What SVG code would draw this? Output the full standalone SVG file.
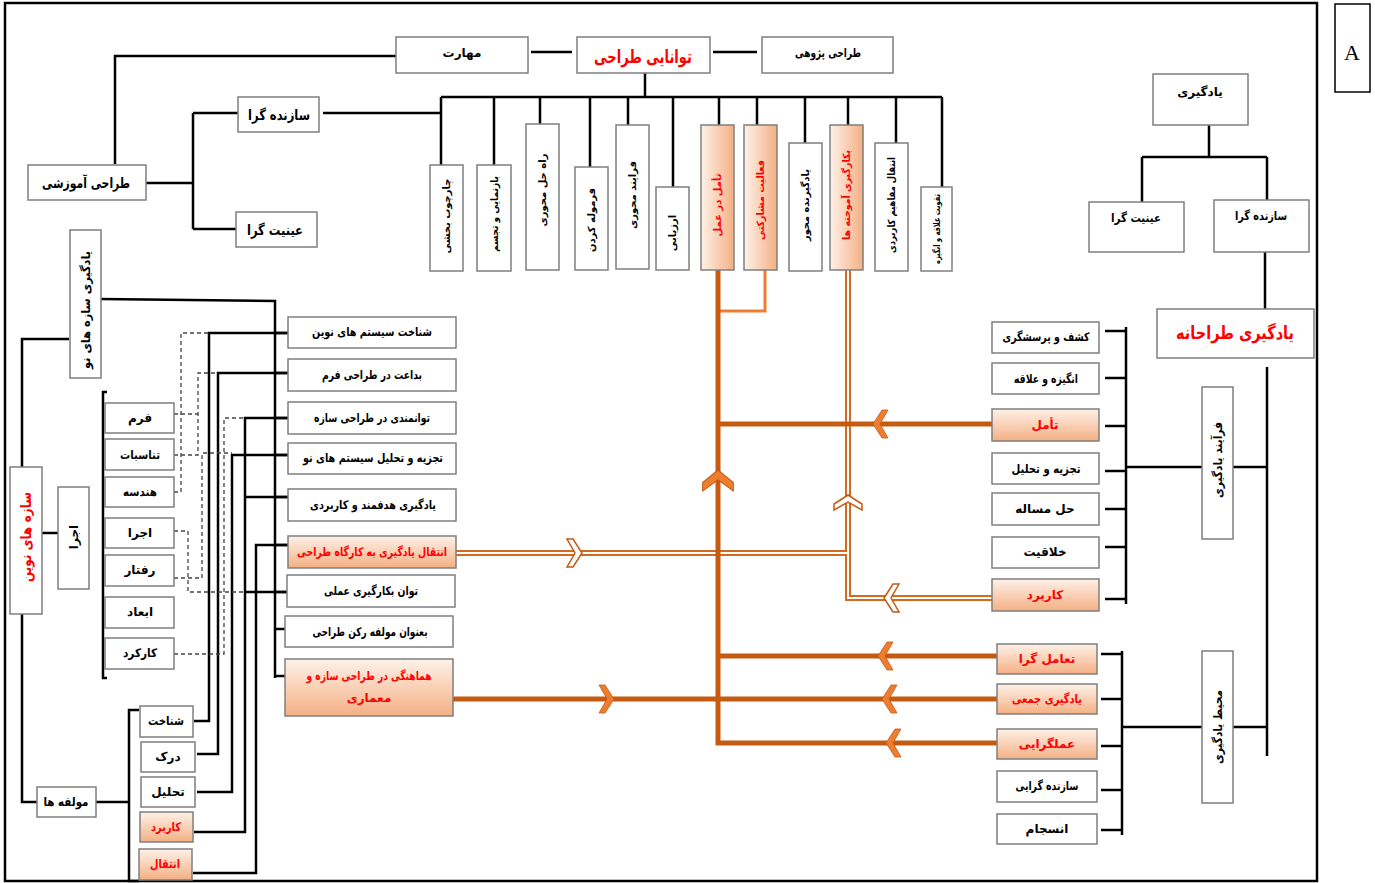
<svg xmlns="http://www.w3.org/2000/svg" width="1375" height="883" viewBox="0 0 1375 883">
<defs>
<linearGradient id="og" x1="0" y1="0" x2="0" y2="1"><stop offset="0" stop-color="#FEF1E8"/><stop offset="1" stop-color="#F4B084"/></linearGradient>
<linearGradient id="ogv" x1="0" y1="0" x2="1" y2="0"><stop offset="0" stop-color="#FEF1E8"/><stop offset="1" stop-color="#F4B084"/></linearGradient>
<polygon id="chev" points="0,0 9,-14 15,-14 7,0 15,14 9,14"/>
</defs>
<style>
.b{fill:#fff;stroke:#7f7f7f;stroke-width:1.5}
.o{fill:url(#og);stroke:#7f7f7f;stroke-width:1.5}
.ov{fill:url(#ogv);stroke:#7f7f7f;stroke-width:1.5}
text{font-family:"DejaVu Sans",sans-serif;font-weight:bold;font-size:12px;fill:#000;text-anchor:middle;dominant-baseline:central}
.s{font-size:10px}
.xs{font-size:9px}
.m{font-size:14px}
.l{font-size:18px}
.r{fill:#f00}
.c{fill:none;stroke:#000;stroke-width:2.5}
.d{fill:none;stroke:#444;stroke-width:1.3;stroke-dasharray:4 3}
.ot{fill:none;stroke:#C55A11;stroke-width:5}
.oth{fill:none;stroke:#ED7D31;stroke-width:3}
.dbo{fill:none;stroke:#D46A1E;stroke-width:6}
.dbi{fill:none;stroke:#fff;stroke-width:2}
.ch{fill:#ED7D31;stroke:#C55A11;stroke-width:0.8}
.chh{fill:#fff;stroke:#C55A11;stroke-width:1.5}
</style>
<rect x="0" y="0" width="1375" height="883" fill="#fff"/>
<rect x="5" y="3" width="1312" height="878" fill="none" stroke="#000" stroke-width="2.5"/>
<g id="label-a"><rect x="1335" y="4" width="35" height="88" fill="#fff" stroke="#000" stroke-width="1.5"/><text x="1352" y="52" style="font-family:'Liberation Serif',serif;font-weight:normal;font-size:22px">A</text></g>

<g id="connectors">
<path class="c" d="M115,164 V56 H396"/>
<path class="c" d="M146,183 H193 M193,113 V229 M193,113 H238 M193,229 H236"/>
<path class="c" d="M323,113 H440"/>
<path class="c" d="M531,52 H572 M713,52 H757"/>
<path class="c" d="M645,73 V97"/>
<path class="c" d="M441,97 H942 M441,97 V165 M494,97 V165 M540,97 V124 M590,97 V167 M628,97 V125 M673,97 V187 M719,97 V125 M757,97 V125 M805,97 V143 M848,97 V125 M896,97 V143 M942,97 V187"/>
<path class="c" d="M1209,125 V157 M1142,157 H1267 M1142,157 V202 M1267,157 V200 M1265,252 V309"/>
<path class="c" d="M1105,331 H1126 M1105,378 H1126 M1105,426 H1126 M1105,471 H1126 M1105,509 H1126 M1105,547 H1126 M1105,599 H1126 M1126,327 V604 M1126,467 H1202 M1233,467 H1267 M1267,367 V756"/>
<path class="c" d="M1101,654 H1122 M1101,699 H1122 M1101,746 H1122 M1101,790 H1122 M1101,830 H1122 M1122,651 V835 M1122,727 H1202 M1233,727 H1267"/>
<path class="c" d="M101,299 L275,301 V678 M275,333 H288 M275,373 H288 M275,418 H288 M275,455 H288 M275,497 H288 M275,545 H288 M275,592 H288 M275,629 H285 M275,676 H285"/>
<path class="c" d="M22,467 V339 H69 M42,533 H58 M22,614 V802 H37 M96,802 H129 M139,710 H129 V881 H139 M107,392 H103 V678 H107"/>
<path class="c" d="M194,721 H209 V333 H288 M197,754 H218 V373 H288 M197,792 H232 V455 H288 M194,832 H245 V418 H288 M245,497 H288 M245,592 H288 M193,873 H256 V545 H288"/>
<path class="d" d="M174,492 H181 V333 H209 M174,414 H198 M174,455 H198 V373 H218 M174,578 H202 V453 H232 M174,531 H188 V592 H245 M174,654 H224 V418 H245"/>
<path class="dbo" d="M456,553 H848 M848,270 V598 H992"/>
<path class="dbi" d="M456,553 H848 M848,270 V598 H992"/>
<path class="oth" d="M765,270 V311 H718"/>
<path class="ot" d="M718,270 V743 H997 M718,424 H992 M718,656 H997 M453,699 H997"/>
<use href="#chev" class="ch" transform="translate(873,424)"/>
<use href="#chev" class="ch" transform="translate(878,656)"/>
<use href="#chev" class="ch" transform="translate(882,699)"/>
<use href="#chev" class="ch" transform="translate(886,743)"/>
<use href="#chev" class="ch" transform="translate(614,699) rotate(180)"/>
<use href="#chev" class="ch" transform="translate(718,470) rotate(90) scale(1.4,1.1)"/>
<use href="#chev" class="chh" transform="translate(848,495) rotate(90)"/>
<use href="#chev" class="chh" transform="translate(582,553) rotate(180)"/>
<use href="#chev" class="chh" transform="translate(884,598)"/>
</g>

<g id="n-maharat"><rect class="b" x="396" y="37" width="132" height="36"/><text x="462" y="53">مهارت</text></g>
<g id="n-tavanai"><rect class="b" x="577" y="37" width="133" height="36"/><text class="l r" x="643" y="56" textLength="98" lengthAdjust="spacingAndGlyphs">توانایی طراحی</text></g>
<g id="n-pajoohi"><rect class="b" x="762" y="37" width="131" height="36"/><text x="828" y="53" textLength="66" lengthAdjust="spacingAndGlyphs">طراحی پژوهی</text></g>

<g id="n-amoozeshi"><rect class="b" x="28" y="165" width="118" height="35"/><text class="m" x="86" y="183" textLength="88" lengthAdjust="spacingAndGlyphs">طراحی آموزشی</text></g>
<g id="n-sazandeh-l"><rect class="b" x="238" y="97" width="81" height="35"/><text class="m" x="279" y="115" textLength="62" lengthAdjust="spacingAndGlyphs">سازنده گرا</text></g>
<g id="n-eiiniat-l"><rect class="b" x="236" y="212" width="81" height="35"/><text class="m" x="275" y="230" textLength="56" lengthAdjust="spacingAndGlyphs">عینیت گرا</text></g>

<g id="v1"><rect class="b" x="430" y="165" width="33" height="106"/><text class="s" transform="translate(446.5,216) rotate(-90)">چارچوب بخشی</text></g>
<g id="v2"><rect class="b" x="477" y="165" width="34" height="106"/><text class="s" transform="translate(494,214) rotate(-90)" textLength="76" lengthAdjust="spacingAndGlyphs">بازنمایی و تجسم</text></g>
<g id="v3"><rect class="b" x="526" y="124" width="33" height="146"/><text class="s" transform="translate(542.5,190) rotate(-90)">راه حل محوری</text></g>
<g id="v4"><rect class="b" x="575" y="167" width="33" height="103"/><text class="s" transform="translate(591.5,220) rotate(-90)">فرموله کردن</text></g>
<g id="v5"><rect class="b" x="616" y="125" width="33" height="144"/><text class="s" transform="translate(632.5,195) rotate(-90)">فرایند محوری</text></g>
<g id="v6"><rect class="b" x="656" y="187" width="33" height="83"/><text class="s" transform="translate(672.5,233) rotate(-90)">ارزیابی</text></g>
<g id="v7"><rect class="ov" x="701" y="125" width="33" height="145"/><text class="s r" transform="translate(717.5,205) rotate(-90)">تأمل در عمل</text></g>
<g id="v8"><rect class="ov" x="744" y="125" width="33" height="145"/><text class="s r" transform="translate(760.5,200) rotate(-90)" textLength="80" lengthAdjust="spacingAndGlyphs">فعالیت مشارکتی</text></g>
<g id="v9"><rect class="b" x="789" y="143" width="33" height="128"/><text class="s" transform="translate(805.5,205) rotate(-90)" textLength="72" lengthAdjust="spacingAndGlyphs">یادگیرنده محور</text></g>
<g id="v10"><rect class="ov" x="830" y="125" width="33" height="145"/><text class="s r" transform="translate(846.5,195) rotate(-90)" textLength="90" lengthAdjust="spacingAndGlyphs">بکارگیری آموخته ها</text></g>
<g id="v11"><rect class="b" x="875" y="143" width="33" height="128"/><text class="s" transform="translate(891.5,205) rotate(-90)" textLength="96" lengthAdjust="spacingAndGlyphs">انتقال مفاهیم کاربردی</text></g>
<g id="v12"><rect class="b" x="921" y="187" width="31" height="84"/><text class="xs" transform="translate(936.5,229) rotate(-90)" textLength="70" lengthAdjust="spacingAndGlyphs">تقویت علاقه و انگیزه</text></g>

<g id="n-yadgiri"><rect class="b" x="1153" y="74" width="95" height="51"/><text x="1200" y="92">یادگیری</text></g>
<g id="n-eiiniat-r"><rect class="b" x="1089" y="202" width="95" height="50"/><text x="1136" y="218" textLength="50" lengthAdjust="spacingAndGlyphs">عینیت گرا</text></g>
<g id="n-sazandeh-r"><rect class="b" x="1214" y="200" width="95" height="52"/><text x="1261" y="216" textLength="52" lengthAdjust="spacingAndGlyphs">سازنده گرا</text></g>
<g id="n-tarahaneh"><rect class="b" x="1157" y="309" width="157" height="49"/><text class="l r" x="1235" y="332" textLength="118" lengthAdjust="spacingAndGlyphs">یادگیری طراحانه</text></g>

<g id="n-farayand"><rect class="b" x="1202" y="387" width="31" height="152"/><text transform="translate(1217.5,460) rotate(-90)" textLength="76" lengthAdjust="spacingAndGlyphs">فرآیند یادگیری</text></g>
<g id="p1"><rect class="b" x="992" y="322" width="107" height="31"/><text x="1046" y="337" textLength="87" lengthAdjust="spacingAndGlyphs">کشف و پرسشگری</text></g>
<g id="p2"><rect class="b" x="992" y="363" width="107" height="31"/><text x="1046" y="379" textLength="64" lengthAdjust="spacingAndGlyphs">انگیزه و علاقه</text></g>
<g id="p3"><rect class="o" x="992" y="409" width="107" height="32"/><text class="r" x="1045" y="425">تأمل</text></g>
<g id="p4"><rect class="b" x="992" y="453" width="107" height="31"/><text x="1046" y="469" textLength="69" lengthAdjust="spacingAndGlyphs">تجزیه و تحلیل</text></g>
<g id="p5"><rect class="b" x="992" y="493" width="107" height="32"/><text x="1045" y="509">حل مساله</text></g>
<g id="p6"><rect class="b" x="992" y="537" width="107" height="31"/><text x="1045" y="552">خلاقیت</text></g>
<g id="p7"><rect class="o" x="992" y="579" width="107" height="32"/><text class="r" x="1045" y="595">کاربرد</text></g>

<g id="n-mohit"><rect class="b" x="1202" y="651" width="31" height="152"/><text transform="translate(1217.5,727) rotate(-90)" textLength="74" lengthAdjust="spacingAndGlyphs">محیط یادگیری</text></g>
<g id="e1"><rect class="o" x="997" y="644" width="100" height="30"/><text class="r" x="1047" y="659">تعامل گرا</text></g>
<g id="e2"><rect class="o" x="997" y="684" width="100" height="30"/><text class="r" x="1047" y="699" textLength="70" lengthAdjust="spacingAndGlyphs">یادگیری جمعی</text></g>
<g id="e3"><rect class="o" x="997" y="729" width="100" height="30"/><text class="r" x="1047" y="744">عملگرایی</text></g>
<g id="e4"><rect class="b" x="997" y="771" width="100" height="31"/><text x="1047" y="786" textLength="63" lengthAdjust="spacingAndGlyphs">سازنده گرایی</text></g>
<g id="e5"><rect class="b" x="997" y="814" width="100" height="30"/><text x="1047" y="829">انسجام</text></g>

<g id="n-yad-saze"><rect class="b" x="70" y="230" width="31" height="148"/><text transform="translate(85.5,310) rotate(-90)" textLength="118" lengthAdjust="spacingAndGlyphs">یادگیری سازه های نو</text></g>
<g id="n-sazeha"><rect class="b" x="10" y="467" width="32" height="147"/><text class="m r" transform="translate(26,537) rotate(-90)" textLength="90" lengthAdjust="spacingAndGlyphs">سازه های نوین</text></g>
<g id="n-ejra-v"><rect class="b" x="58" y="487" width="31" height="102"/><text transform="translate(73.5,537) rotate(-90)">اجرا</text></g>

<g id="k1"><rect class="b" x="105" y="403" width="69" height="30"/><text x="140" y="418">فرم</text></g>
<g id="k2"><rect class="b" x="105" y="439" width="69" height="31"/><text x="140" y="455" textLength="40" lengthAdjust="spacingAndGlyphs">تناسبات</text></g>
<g id="k3"><rect class="b" x="105" y="477" width="69" height="30"/><text x="140" y="492" textLength="34" lengthAdjust="spacingAndGlyphs">هندسه</text></g>
<g id="k4"><rect class="b" x="105" y="518" width="69" height="30"/><text x="140" y="533">اجرا</text></g>
<g id="k5"><rect class="b" x="105" y="555" width="69" height="31"/><text x="140" y="570">رفتار</text></g>
<g id="k6"><rect class="b" x="105" y="597" width="69" height="31"/><text x="140" y="612">ابعاد</text></g>
<g id="k7"><rect class="b" x="105" y="638" width="69" height="31"/><text x="140" y="653" textLength="34" lengthAdjust="spacingAndGlyphs">کارکرد</text></g>

<g id="n-moalefe"><rect class="b" x="37" y="787" width="59" height="30"/><text x="66" y="802" textLength="45" lengthAdjust="spacingAndGlyphs">مولفه ها</text></g>
<g id="m1"><rect class="b" x="140" y="706" width="53" height="31"/><text x="166" y="721" textLength="36" lengthAdjust="spacingAndGlyphs">شناخت</text></g>
<g id="m2"><rect class="b" x="141" y="742" width="54" height="30"/><text x="168" y="757">درک</text></g>
<g id="m3"><rect class="b" x="141" y="777" width="54" height="30"/><text x="168" y="792">تحلیل</text></g>
<g id="m4"><rect class="o" x="140" y="812" width="53" height="30"/><text class="r" x="166" y="827" textLength="30" lengthAdjust="spacingAndGlyphs">کاربرد</text></g>
<g id="m5"><rect class="o" x="139" y="849" width="53" height="31"/><text class="r" x="165" y="864" textLength="30" lengthAdjust="spacingAndGlyphs">انتقال</text></g>

<g id="a1"><rect class="b" x="288" y="317" width="168" height="31"/><text x="372" y="332" textLength="120" lengthAdjust="spacingAndGlyphs">شناخت سیستم های نوین</text></g>
<g id="a2"><rect class="b" x="288" y="359" width="168" height="32"/><text x="372" y="375" textLength="100" lengthAdjust="spacingAndGlyphs">بداعت در طراحی فرم</text></g>
<g id="a3"><rect class="b" x="288" y="402" width="168" height="32"/><text x="372" y="418" textLength="116" lengthAdjust="spacingAndGlyphs">توانمندی در طراحی سازه</text></g>
<g id="a4"><rect class="b" x="288" y="443" width="168" height="31"/><text x="373" y="458" textLength="140" lengthAdjust="spacingAndGlyphs">تجزیه و تحلیل سیستم های نو</text></g>
<g id="a5"><rect class="b" x="288" y="489" width="168" height="32"/><text x="373" y="505" textLength="126" lengthAdjust="spacingAndGlyphs">یادگیری هدفمند و کاربردی</text></g>
<g id="a6"><rect class="o" x="288" y="536" width="168" height="32"/><text class="r" x="372" y="552" textLength="150" lengthAdjust="spacingAndGlyphs">انتقال یادگیری به کارگاه طراحی</text></g>
<g id="a7"><rect class="b" x="287" y="575" width="168" height="32"/><text x="371" y="591" textLength="94" lengthAdjust="spacingAndGlyphs">توان بکارگیری عملی</text></g>
<g id="a8"><rect class="b" x="285" y="616" width="168" height="31"/><text x="370" y="632" textLength="115" lengthAdjust="spacingAndGlyphs">بعنوان مولفه رکن طراحی</text></g>
<g id="a9"><rect class="o" x="285" y="659" width="168" height="57"/><text class="r" x="369" y="676" textLength="125" lengthAdjust="spacingAndGlyphs">هماهنگی در طراحی سازه و</text><text class="r" x="369" y="698">معماری</text></g>
</svg>
